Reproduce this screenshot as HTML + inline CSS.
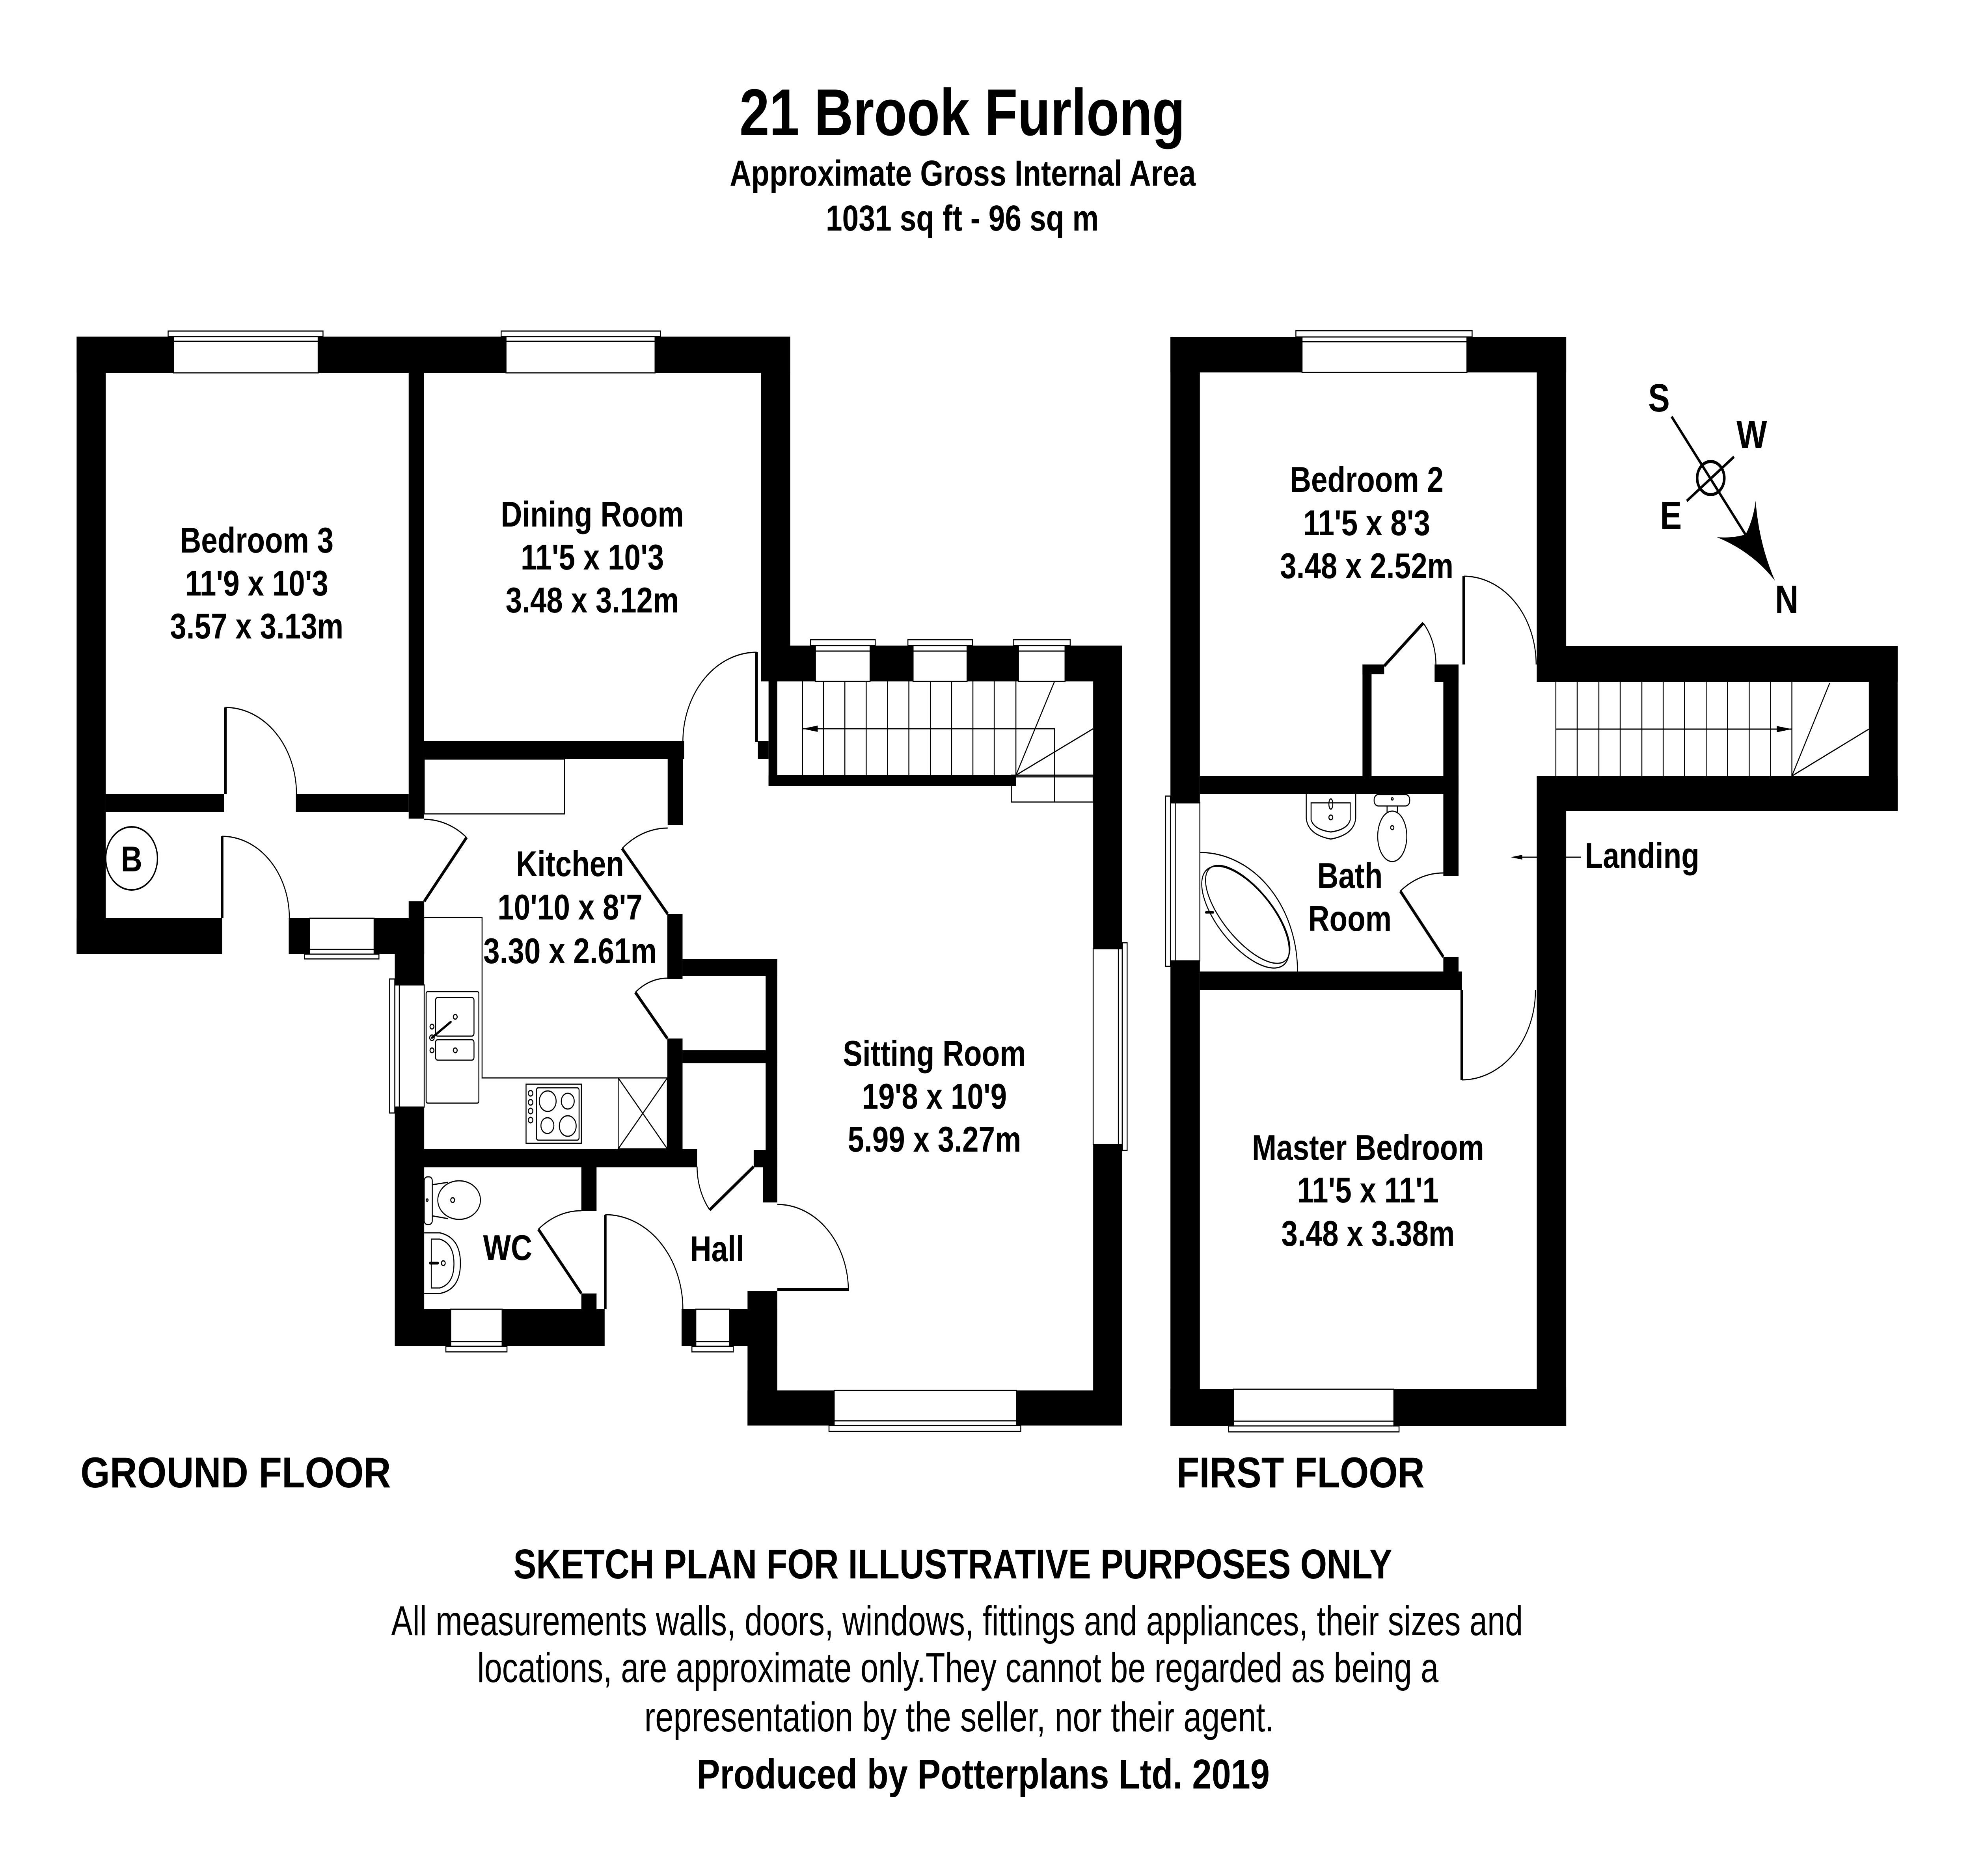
<!DOCTYPE html>
<html>
<head>
<meta charset="utf-8">
<meta name="viewport" content="width=device-width, initial-scale=1">
<style>
html,body{margin:0;padding:0;background:#fff;width:100%;height:100%;overflow:hidden;}
svg{display:block;width:100vw;height:100vh;}
.b{font-family:"Liberation Sans",Arial,sans-serif;font-weight:bold;fill:#000;}
.r{font-family:"Liberation Sans",Arial,sans-serif;font-weight:normal;fill:#000;}
</style>
</head>
<body>
<svg xmlns="http://www.w3.org/2000/svg" viewBox="0 0 6096 4760" preserveAspectRatio="none">
<rect x="0" y="0" width="6096" height="4760" fill="#fff"/>

<!-- ================= FITTINGS / LINES ================= -->
<g fill="none" stroke="#000" stroke-width="3">
  <!-- kitchen top unit -->
  <rect x="1312" y="1926" width="434" height="139"/>
  <!-- worktop -->
  <polyline points="1312,2328 1491,2328 1491,2735 2064,2735"/>
  <!-- sink -->
  <rect x="1318" y="2516" width="163" height="283" rx="5"/>
  <rect x="1347" y="2531" width="119" height="98" rx="7"/>
  <rect x="1347" y="2638" width="119" height="52" rx="7"/>
  <circle cx="1408" cy="2580" r="6"/>
  <circle cx="1408" cy="2665" r="6"/>
  <circle cx="1336" cy="2605" r="6"/>
  <circle cx="1336" cy="2633" r="7"/>
  <circle cx="1336" cy="2665" r="6"/>
  <line x1="1336" y1="2633" x2="1394" y2="2593" stroke-width="6" stroke-linecap="round"/>
  <!-- hob -->
  <rect x="1627" y="2751" width="171" height="150"/>
  <rect x="1659" y="2760" width="132" height="133" rx="6"/>
  <circle cx="1694" cy="2794" r="26"/>
  <circle cx="1756" cy="2794" r="20"/>
  <circle cx="1693" cy="2856" r="20"/>
  <circle cx="1756" cy="2857" r="26"/>
  <circle cx="1641" cy="2774" r="7"/>
  <circle cx="1641" cy="2797" r="7"/>
  <circle cx="1641" cy="2819" r="7"/>
  <circle cx="1641" cy="2842" r="7"/>
  <!-- X box -->
  <rect x="1912" y="2735" width="152" height="180"/>
  <line x1="1912" y1="2735" x2="2064" y2="2915"/>
  <line x1="2064" y1="2735" x2="1912" y2="2915"/>
  <!-- WC toilet -->
  <rect x="1312" y="2986" width="25" height="121" rx="10"/>
  <line x1="1337" y1="3006" x2="1385" y2="3000"/>
  <line x1="1337" y1="3085" x2="1385" y2="3092"/>
  <ellipse cx="1420" cy="3045" rx="66" ry="49"/>
  <circle cx="1321" cy="3045" r="3"/>
  <circle cx="1400" cy="3045" r="6"/>
  <!-- WC basin -->
  <path d="M1312,3128 L1360,3128 Q1424,3140 1424,3205 Q1424,3272 1360,3282 L1312,3282"/>
  <path d="M1334,3144 L1360,3144 Q1404,3155 1404,3206 Q1404,3258 1360,3268 L1334,3268 Z"/>
  <line x1="1330" y1="3205" x2="1354" y2="3205" stroke-width="7" stroke-linecap="round"/>
  <circle cx="1371" cy="3205" r="6"/>
  <!-- B boiler -->
  <circle cx="407" cy="2178" r="80" stroke-width="4"/>
  <!-- GF stairs -->
  <line x1="2482" y1="1729" x2="2482" y2="1967"/>
  <line x1="2547" y1="1729" x2="2547" y2="1967"/>
  <line x1="2613" y1="1729" x2="2613" y2="1967"/>
  <line x1="2679" y1="1729" x2="2679" y2="1967"/>
  <line x1="2745" y1="1729" x2="2745" y2="1967"/>
  <line x1="2811" y1="1729" x2="2811" y2="1967"/>
  <line x1="2878" y1="1729" x2="2878" y2="1967"/>
  <line x1="2943" y1="1729" x2="2943" y2="1967"/>
  <line x1="3009" y1="1729" x2="3009" y2="1967"/>
  <line x1="3075" y1="1729" x2="3075" y2="1967"/>
  <line x1="3142" y1="1729" x2="3142" y2="1967"/>
  <polyline points="2482,1849 3261,1849 3261,2035"/>
  <line x1="3142" y1="1967" x2="3261" y2="1730"/>
  <line x1="3142" y1="1967" x2="3381" y2="1849"/>
  <rect x="3128" y="1967" width="253" height="68"/>
  <line x1="3142" y1="1971" x2="3381" y2="1971"/>
  <!-- FF stairs -->
  <line x1="4812" y1="1730" x2="4812" y2="1969"/>
  <line x1="4878" y1="1730" x2="4878" y2="1969"/>
  <line x1="4945" y1="1730" x2="4945" y2="1969"/>
  <line x1="5011" y1="1730" x2="5011" y2="1969"/>
  <line x1="5078" y1="1730" x2="5078" y2="1969"/>
  <line x1="5144" y1="1730" x2="5144" y2="1969"/>
  <line x1="5210" y1="1730" x2="5210" y2="1969"/>
  <line x1="5277" y1="1730" x2="5277" y2="1969"/>
  <line x1="5343" y1="1730" x2="5343" y2="1969"/>
  <line x1="5410" y1="1730" x2="5410" y2="1969"/>
  <line x1="5476" y1="1730" x2="5476" y2="1969"/>
  <line x1="5542" y1="1730" x2="5542" y2="1969"/>
  <line x1="4812" y1="1850" x2="5542" y2="1850"/>
  <line x1="5542" y1="1969" x2="5659" y2="1733"/>
  <line x1="5542" y1="1969" x2="5780" y2="1850"/>
  <!-- Bathroom basin -->
  <path d="M4040,2015 L4040,2076 Q4045,2118 4116,2129 Q4188,2118 4193,2076 L4193,2015"/>
  <path d="M4055,2037 L4176,2037 L4176,2080 Q4168,2105 4116,2111 Q4064,2105 4055,2080 Z"/>
  <ellipse cx="4116" cy="2040" rx="6" ry="13"/>
  <circle cx="4116" cy="2074" r="6"/>
  <!-- Bathroom toilet -->
  <rect x="4250" y="2016" width="110" height="29" rx="13"/>
  <line x1="4290" y1="2045" x2="4290" y2="2060"/>
  <line x1="4322" y1="2045" x2="4322" y2="2060"/>
  <ellipse cx="4306" cy="2122" rx="45" ry="64"/>
  <circle cx="4306" cy="2100" r="5"/>
  <circle cx="4306" cy="2027" r="3"/>
  <!-- Bath -->
  <path d="M3711,2163 A302,302 0 0,1 4013,2465"/>
  <ellipse cx="3859" cy="2320" rx="166" ry="70" transform="rotate(43 3859 2320)"/>
  <ellipse cx="3852" cy="2327" rx="170" ry="78" transform="rotate(43 3852 2327)"/>
  <line x1="3730" y1="2315" x2="3752" y2="2315" stroke-width="6" stroke-linecap="round"/>
</g>
<!-- stair arrowheads -->
<polygon points="2482,1849 2529,1841 2529,1857" fill="#000"/>
<polygon points="5542,1850 5495,1842 5495,1858" fill="#000"/>

<!-- Landing leader -->
<line x1="4680" y1="2175" x2="4890" y2="2175" stroke="#000" stroke-width="3"/>
<polygon points="4672,2175 4708,2169 4708,2181" fill="#000"/>

<!-- ================= WALLS ================= -->
<g fill="#000">
  <!-- Ground floor -->
  <rect x="237" y="854" width="2207" height="92"/>
  <rect x="237" y="854" width="90" height="1567"/>
  <rect x="1264" y="946" width="47" height="1131"/>
  <rect x="327" y="2015" width="366" height="45"/>
  <rect x="915" y="2015" width="349" height="45"/>
  <rect x="237" y="2330" width="450" height="91"/>
  <rect x="893" y="2330" width="65" height="91"/>
  <rect x="1157" y="2330" width="155" height="91"/>
  <rect x="1264" y="2287" width="48" height="43"/>
  <rect x="1221" y="2330" width="91" height="1086"/>
  <rect x="1221" y="3322" width="649" height="94"/>
  <rect x="2354" y="854" width="90" height="784"/>
  <rect x="2354" y="1638" width="1117" height="91"/>
  <rect x="1311" y="1880" width="805" height="46"/>
  <rect x="2344" y="1880" width="33" height="46"/>
  <rect x="2377" y="1729" width="27" height="265"/>
  <rect x="2377" y="1967" width="765" height="27"/>
  <rect x="3381" y="1638" width="90" height="1979"/>
  <rect x="2312" y="3528" width="1159" height="89"/>
  <rect x="2312" y="3276" width="92" height="341"/>
  <rect x="2108" y="3322" width="296" height="94"/>
  <rect x="2065" y="1926" width="47" height="168"/>
  <rect x="2064" y="2319" width="47" height="165"/>
  <rect x="2064" y="2635" width="47" height="283"/>
  <rect x="2111" y="2434" width="293" height="42"/>
  <rect x="2111" y="2665" width="293" height="33"/>
  <rect x="2368" y="2434" width="36" height="617"/>
  <rect x="2360" y="2918" width="44" height="133"/>
  <rect x="1221" y="2915" width="935" height="47"/>
  <rect x="2331" y="2918" width="73" height="44"/>
  <rect x="1798" y="2962" width="47" height="110"/>
  <rect x="1798" y="3282" width="47" height="40"/>
  <!-- First floor -->
  <rect x="3620" y="855" width="1224" height="90"/>
  <rect x="3620" y="855" width="91" height="2763"/>
  <rect x="4753" y="855" width="91" height="875"/>
  <rect x="4753" y="1639" width="1116" height="91"/>
  <rect x="5780" y="1639" width="89" height="419"/>
  <rect x="4753" y="1969" width="1116" height="89"/>
  <rect x="4753" y="1969" width="91" height="1649"/>
  <rect x="3620" y="3525" width="1224" height="93"/>
  <rect x="3711" y="1969" width="800" height="45"/>
  <rect x="4214" y="1686" width="28" height="283"/>
  <rect x="4214" y="1686" width="67" height="25"/>
  <rect x="4437" y="1686" width="74" height="44"/>
  <rect x="4464" y="1686" width="47" height="536"/>
  <rect x="4464" y="2428" width="47" height="38"/>
  <rect x="3711" y="2465" width="810" height="47"/>
</g>

<!-- ================= WINDOWS ================= -->
<g fill="#fff" stroke="#000" stroke-width="3">
  <rect x="537" y="854" width="447" height="92"/>
  <rect x="520" y="840" width="479" height="14"/>
  <line x1="537" y1="866" x2="984" y2="866"/>
  <rect x="1565" y="854" width="461" height="92"/>
  <rect x="1550" y="840" width="493" height="14"/>
  <line x1="1565" y1="866" x2="2026" y2="866"/>
  <rect x="2522" y="1638" width="169" height="91"/>
  <rect x="2507" y="1623" width="200" height="15"/>
  <line x1="2522" y1="1652" x2="2691" y2="1652"/>
  <rect x="2824" y="1638" width="167" height="91"/>
  <rect x="2808" y="1623" width="200" height="15"/>
  <line x1="2824" y1="1652" x2="2991" y2="1652"/>
  <rect x="3150" y="1638" width="144" height="91"/>
  <rect x="3134" y="1623" width="176" height="15"/>
  <line x1="3150" y1="1652" x2="3294" y2="1652"/>
  <rect x="958" y="2330" width="199" height="91"/>
  <rect x="942" y="2421" width="230" height="12"/>
  <line x1="958" y1="2409" x2="1157" y2="2409"/>
  <rect x="1221" y="2499" width="91" height="310"/>
  <rect x="1205" y="2484" width="16" height="340"/>
  <line x1="1235" y1="2499" x2="1235" y2="2809"/>
  <rect x="1394" y="3322" width="159" height="94"/>
  <rect x="1379" y="3416" width="189" height="14"/>
  <line x1="1394" y1="3404" x2="1553" y2="3404"/>
  <rect x="2152" y="3322" width="104" height="94"/>
  <rect x="2140" y="3416" width="128" height="14"/>
  <line x1="2152" y1="3404" x2="2256" y2="3404"/>
  <rect x="2580" y="3528" width="564" height="89"/>
  <rect x="2564" y="3617" width="593" height="15"/>
  <line x1="2580" y1="3605" x2="3144" y2="3605"/>
  <rect x="3381" y="2407" width="90" height="497"/>
  <rect x="3471" y="2392" width="15" height="527"/>
  <line x1="3459" y1="2407" x2="3459" y2="2904"/>
  <rect x="4027" y="855" width="510" height="90"/>
  <rect x="4008" y="839" width="545" height="16"/>
  <line x1="4027" y1="867" x2="4537" y2="867"/>
  <rect x="3620" y="2037" width="91" height="401"/>
  <rect x="3605" y="2020" width="15" height="432"/>
  <line x1="3635" y1="2037" x2="3635" y2="2438"/>
  <rect x="3815" y="3525" width="496" height="93"/>
  <rect x="3800" y="3618" width="527" height="15"/>
  <line x1="3815" y1="3606" x2="4311" y2="3606"/>
</g>

<!-- ================= DOORS ================= -->
<g fill="none" stroke="#000" stroke-width="3">
  <path d="M697,1795 A220,220 0 0,1 917,2015"/>
  <path d="M687,2122 A208,208 0 0,1 895,2330"/>
  <path d="M1443,2125 A208,208 0 0,0 1312,2079"/>
  <path d="M2340,1655 A228,228 0 0,0 2112,1883"/>
  <path d="M1924,2153 A218,218 0 0,1 2065,2101"/>
  <path d="M1965,2518 A153,153 0 0,1 2064,2482"/>
  <path d="M2195,3070 A175,175 0 0,1 2156,2960"/>
  <path d="M1665,3119 A210,210 0 0,1 1798,3072"/>
  <path d="M1872,3082 A240,240 0 0,1 2112,3322"/>
  <path d="M2624,3276 A220,220 0 0,0 2404,3056"/>
  <path d="M4527,1462 A224,224 0 0,1 4751,1686"/>
  <path d="M4402,1581 A160,160 0 0,1 4439,1711"/>
  <path d="M4331,2261 A213,213 0 0,1 4464,2215"/>
  <path d="M4521,2740 A228,228 0 0,0 4749,2512"/>
</g>
<g fill="none" stroke="#000" stroke-width="8">
  <line x1="697" y1="2015" x2="697" y2="1795"/>
  <line x1="687" y1="2330" x2="687" y2="2122"/>
  <line x1="1312" y1="2287" x2="1443" y2="2125"/>
  <line x1="2340" y1="1883" x2="2340" y2="1655"/>
  <line x1="2065" y1="2319" x2="1924" y2="2153"/>
  <line x1="2064" y1="2635" x2="1965" y2="2518"/>
  <line x1="2331" y1="2960" x2="2195" y2="3070"/>
  <line x1="1798" y1="3282" x2="1665" y2="3119"/>
  <line x1="1872" y1="3322" x2="1872" y2="3082"/>
  <line x1="2404" y1="3272" x2="2624" y2="3272"/>
  <line x1="4527" y1="1686" x2="4527" y2="1462"/>
  <line x1="4281" y1="1690" x2="4402" y2="1581"/>
  <line x1="4464" y1="2428" x2="4331" y2="2261"/>
  <line x1="4521" y1="2512" x2="4521" y2="2740"/>
</g>

<!-- ================= COMPASS ================= -->
<g stroke="#000" stroke-width="7" fill="none">
  <line x1="5170" y1="1057" x2="5399" y2="1357"/>
  <line x1="5217" y1="1271" x2="5363" y2="1159"/>
  <circle cx="5291" cy="1213" r="42" stroke-width="8"/>
</g>
<path d="M5310,1363 Q5360,1366 5399,1356 Q5422,1320 5430,1271 Q5440,1380 5490,1474 Q5420,1400 5310,1363 Z" fill="#000"/>
<text class="b" x="5131" y="1044" font-size="100" text-anchor="middle">S</text>
<text class="b" x="5418" y="1137" font-size="100" text-anchor="middle">W</text>
<text class="b" x="5168" y="1342" font-size="100" text-anchor="middle">E</text>
<text class="b" x="5526" y="1555" font-size="100" text-anchor="middle">N</text>

<!-- ================= ROOM LABELS ================= -->
<g class="b" font-size="91" text-anchor="middle">
  <text x="794" y="1402">Bedroom 3</text>
  <text x="794" y="1511">11'9 x 10'3</text>
  <text x="794" y="1620">3.57 x 3.13m</text>

  <text x="1832" y="1336">Dining Room</text>
  <text x="1832" y="1445">11'5 x 10'3</text>
  <text x="1832" y="1554">3.48 x 3.12m</text>

  <text x="1763" y="2223">Kitchen</text>
  <text x="1763" y="2333">10'10 x 8'7</text>
  <text x="1763" y="2444">3.30 x 2.61m</text>

  <text x="2890" y="2704">Sitting Room</text>
  <text x="2890" y="2813">19'8 x 10'9</text>
  <text x="2890" y="2922">5.99 x 3.27m</text>

  <text x="1570" y="3197">WC</text>
  <text x="2218" y="3200">Hall</text>
  <text x="407" y="2211">B</text>

  <text x="4227" y="1248">Bedroom 2</text>
  <text x="4227" y="1358">11'5 x 8'3</text>
  <text x="4227" y="1467">3.48 x 2.52m</text>

  <text x="4175" y="2253">Bath</text>
  <text x="4175" y="2362">Room</text>

  <text x="4231" y="2943">Master Bedroom</text>
  <text x="4231" y="3051">11'5 x 11'1</text>
  <text x="4231" y="3161">3.48 x 3.38m</text>
</g>
<text class="b" x="4902" y="2202" font-size="91">Landing</text>

<!-- ================= HEADINGS ================= -->
<text class="b" x="2287" y="343" font-size="168" textLength="1378" lengthAdjust="spacingAndGlyphs">21 Brook Furlong</text>
<text class="b" x="2257" y="471" font-size="92" textLength="1441" lengthAdjust="spacingAndGlyphs">Approximate Gross Internal Area</text>
<text class="b" x="2554" y="585" font-size="92" textLength="844" lengthAdjust="spacingAndGlyphs">1031 sq ft - 96 sq m</text>

<text class="b" x="249" y="3774" font-size="110" textLength="960" lengthAdjust="spacingAndGlyphs">GROUND FLOOR</text>
<text class="b" x="3639" y="3774" font-size="110" textLength="767" lengthAdjust="spacingAndGlyphs">FIRST FLOOR</text>

<text class="b" x="1588" y="4005" font-size="106" textLength="2718" lengthAdjust="spacingAndGlyphs">SKETCH PLAN FOR ILLUSTRATIVE PURPOSES ONLY</text>
<text class="r" x="1210" y="4149" font-size="106" textLength="3500" lengthAdjust="spacingAndGlyphs">All measurements walls, doors, windows, fittings and appliances, their sizes and</text>
<text class="r" x="1476" y="4268" font-size="106" textLength="2973" lengthAdjust="spacingAndGlyphs">locations, are approximate only.They cannot be regarded as being a</text>
<text class="r" x="1993" y="4393" font-size="106" textLength="1948" lengthAdjust="spacingAndGlyphs">representation by the seller, nor their agent.</text>
<text class="b" x="2155" y="4538" font-size="106" textLength="1772" lengthAdjust="spacingAndGlyphs">Produced by Potterplans Ltd. 2019</text>
</svg>
</body>
</html>
